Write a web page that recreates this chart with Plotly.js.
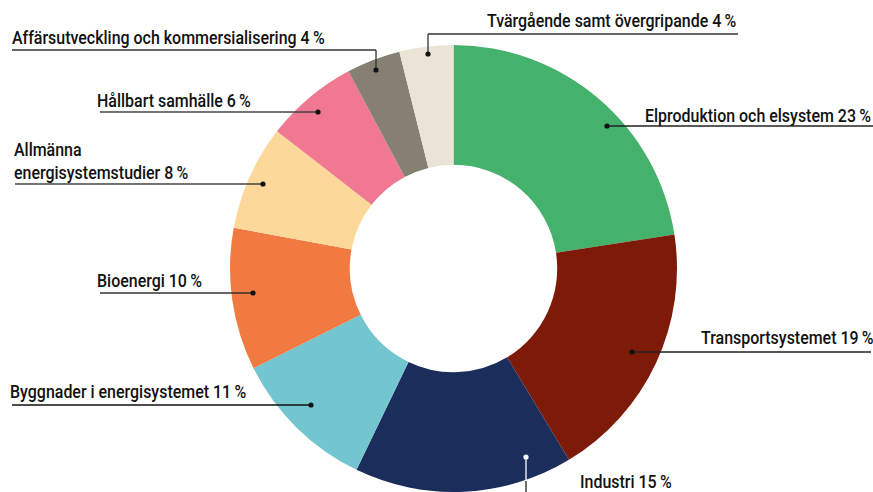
<!DOCTYPE html>
<html>
<head>
<meta charset="utf-8">
<script src="https://cdn.plot.ly/plotly-3.0.1.min.js"></script>
<style>html,body{margin:0;padding:0;background:#fff;}#chart{width:873px;height:492px;}</style>
</head>
<body>
<div id="chart"></div>
<script>
// ---- data ----
const categories = [
  "Elproduktion och elsystem",
  "Transportsystemet",
  "Industri",
  "Byggnader i energisystemet",
  "Bioenergi",
  "Allmänna<br>energisystemstudier",
  "Hållbart samhälle",
  "Affärsutveckling och kommersialisering",
  "Tvärgående samt övergripande"
];
// printed shares (labels)
const labelPercents = [23, 19, 15, 11, 10, 8, 6, 4, 4];
// slice sizes as drawn
const sliceValues = [22.6, 18.8, 15.8, 10.5, 10.3, 7.6, 6.7, 3.9, 3.9];
const colors = ["#44b26c", "#7d1a08", "#1b2d5b", "#73c6cf", "#f07a40", "#fdd89b", "#f07890", "#858071", "#eae4d6"];

// ---- label layout (pixel positions) ----
const labelLayout = [
  {dot:[607,126], path:[[607,126],[873,126]], text:[645,115], lineColor:"#222", dotColor:"#111"},
  {dot:[632,352], path:[[632,352],[871,352]], text:[701,337], lineColor:"#222", dotColor:"#111"},
  {dot:[526,457], path:[[526,457],[526,481]], path2:[[526,481],[526,492]], text:[580,481], lineColor:"#fff", dotColor:"#fff"},
  {dot:[311,405], path:[[12,405],[311,405]], text:[10,391], lineColor:"#111", dotColor:"#111"},
  {dot:[253,293], path:[[100,293],[253,293]], text:[97,280], lineColor:"#333", dotColor:"#111"},
  {dot:[263,184], path:[[15,184],[263,184]], text:[14,161], lineColor:"#444", dotColor:"#111"},
  {dot:[318,112], path:[[100,112],[318,112]], text:[97,100], lineColor:"#444", dotColor:"#111"},
  {dot:[376,70], path:[[12,50],[376,50],[376,70]], text:[12,37], lineColor:"#333", dotColor:"#111"},
  {dot:[428,54], path:[[428,54],[428,34],[738,34]], text:[487,20], lineColor:"#333", dotColor:"#111"}
];

const W = 873, H = 492;
const px = x => x / W;
const py = y => 1 - y / H;

const shapes = [];
const annotations = [];
labelLayout.forEach((L, i) => {
  const addPath = (pts, color) => {
    for (let k = 0; k < pts.length - 1; k++) {
      shapes.push({type:"line", xref:"paper", yref:"paper",
        x0:px(pts[k][0]), y0:py(pts[k][1]), x1:px(pts[k+1][0]), y1:py(pts[k+1][1]),
        line:{color:color, width:1.3}});
    }
  };
  addPath(L.path, L.lineColor);
  if (L.path2) addPath(L.path2, "#222");
  const r = 2.6;
  shapes.push({type:"circle", xref:"paper", yref:"paper",
    x0:px(L.dot[0]-r), x1:px(L.dot[0]+r), y0:py(L.dot[1]+r), y1:py(L.dot[1]-r),
    fillcolor:L.dotColor, line:{width:0}});
  annotations.push({
    xref:"paper", yref:"paper", x:px(L.text[0]), y:py(L.text[1]),
    xanchor:"left", yanchor:"middle", align:"left", showarrow:false,
    text: categories[i] + " " + labelPercents[i] + "\u2009%",
    font:{family:"Roboto, 'DejaVu Sans Condensed', sans-serif", size:18, weight:500, color:"#111"}
  });
});

const trace = {
  type:"pie",
  values: sliceValues,
  labels: categories,
  marker:{colors: colors, line:{width:0}},
  hole: 0.464,
  sort: false,
  direction: "clockwise",
  rotation: 0,
  textinfo: "none",
  hoverinfo: "label",
  domain:{x:[230/W, 677/W], y:[0, 447/H]}
};

Plotly.newPlot("chart", [trace], {
  width: W, height: H,
  margin:{l:0, r:0, t:0, b:0},
  paper_bgcolor:"#fff",
  showlegend:false,
  shapes: shapes,
  annotations: annotations
}, {displayModeBar:false, staticPlot:true}).then(() => {
  // condense the label typeface horizontally (reference uses a condensed face)
  const texts = Array.from(document.querySelectorAll("#chart .annotation-text"));
  const widest = Math.max(...texts.map(t => t.getBBox().width));
  const s = 313 / widest;
  texts.forEach((t, i) => {
    const bb = t.getBBox();
    const targetLeft = labelLayout[i].text[0];
    const prev = t.getAttribute("transform") || "";
    t.setAttribute("transform",
      prev + ` translate(${bb.x},0) scale(${s},1) translate(${-bb.x},0)`);
    // align left edge exactly
    const ctm = t.getBoundingClientRect();
    const dx = targetLeft - ctm.left;
    t.setAttribute("transform", `translate(${dx},0) ` + t.getAttribute("transform"));
  });
});
</script>
</body>
</html>
